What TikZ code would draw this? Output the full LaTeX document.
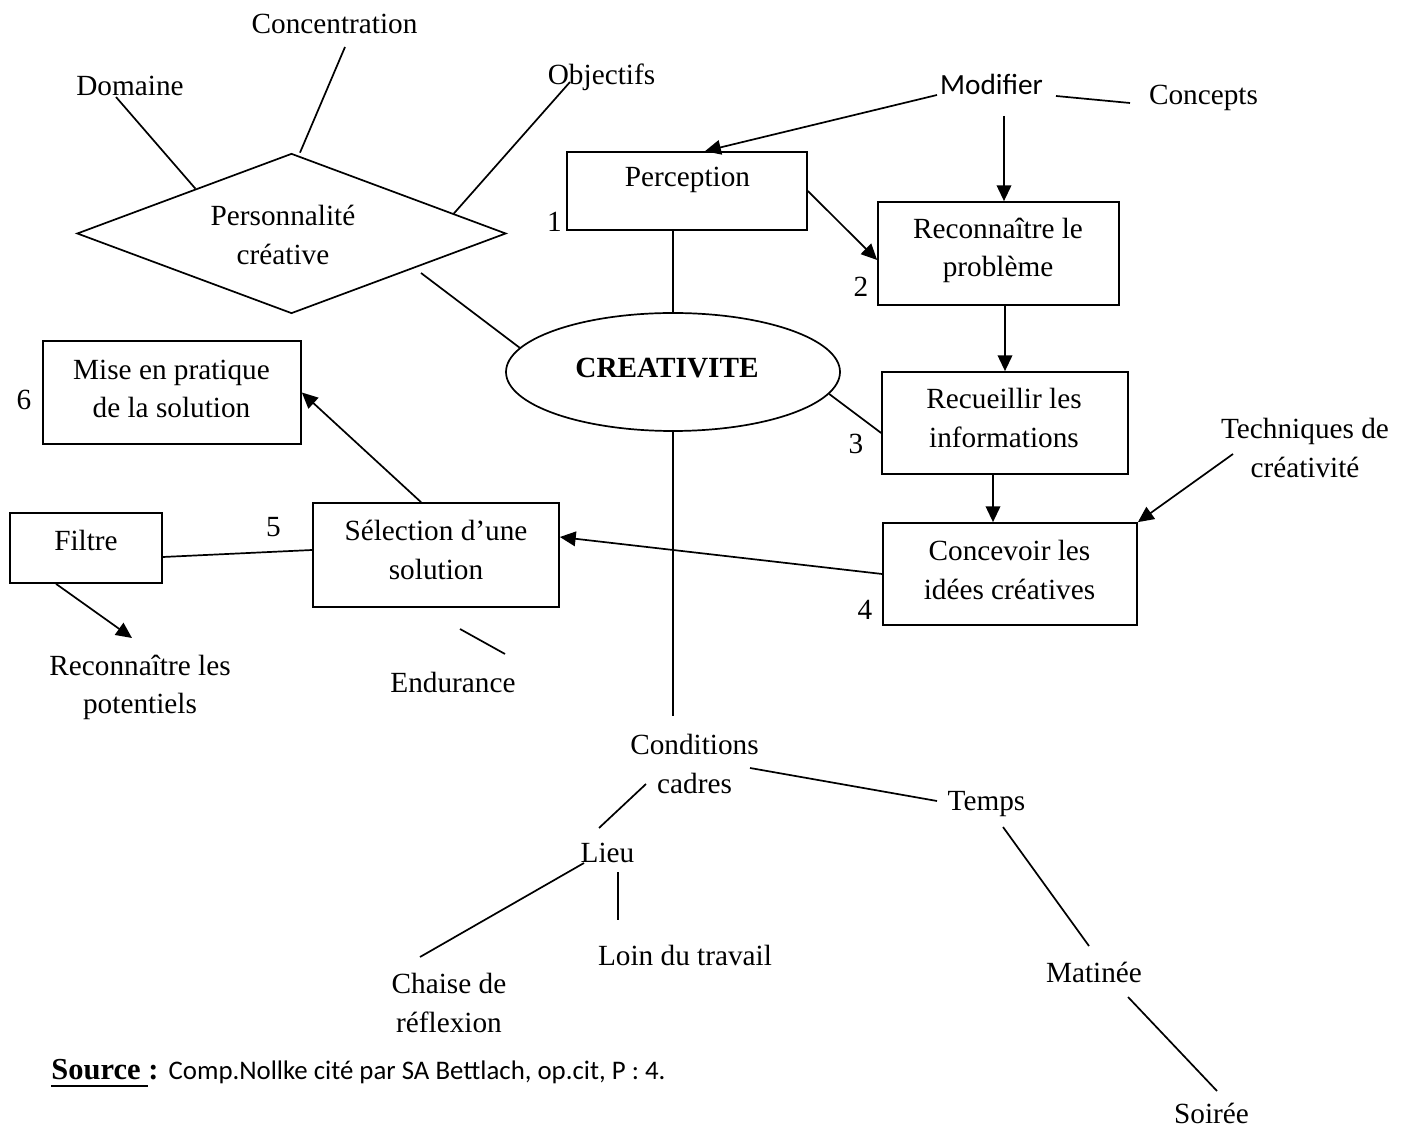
\documentclass[tikz,border=0pt]{standalone}
\usepackage{fontspec}
\setmainfont{Liberation Serif}
\newfontfamily\calibri{Carlito}
\usetikzlibrary{shapes.geometric,arrows.meta,calc}
% underline with a heavier rule, kept on the text baseline
\newcommand\srcul[1]{\vtop{\hbox{#1}\kern2.5pt\hrule height 0.8pt}}
\def\pxu{0.41pt}
\begin{document}
\begin{tikzpicture}[x=0.41pt,y=-0.41pt,
  ln/.style={line width=0.7pt},
  arr/.style={line width=0.7pt,-{Triangle[length=6.5pt,width=6pt]}},
  bx/.style 2 args={draw,line width=0.7pt,inner sep=0pt,
    minimum width=#1*\pxu,minimum height=#2*\pxu},
  txt/.style={inner sep=0pt,align=center,font=\fontsize{12}{15.8}\selectfont},
  num/.style={inner sep=0pt,font=\fontsize{12}{14}\selectfont}]

\fill[white] (0,0) rectangle (1406,1129);
\useasboundingbox (0,0) rectangle (1406,1129);

% ---- shapes ----
\node[draw,diamond,line width=0.7pt,inner sep=0pt,
  minimum width=429*\pxu,minimum height=160*\pxu] (pers) at (291.5,233.5) {};
\node[draw,ellipse,line width=0.7pt,inner sep=0pt,
  minimum width=334*\pxu,minimum height=118*\pxu] (crea) at (673,372) {};
\node[bx={240}{78}]  (perc)    at (687,191)    {};
\node[bx={241}{103}] (recon)   at (998.5,253.5) {};
\node[bx={246}{102}] (recueil) at (1005,423)   {};
\node[bx={254}{102}] (concev)  at (1010,574)   {};
\node[bx={246}{104}] (select)  at (436,555)    {};
\node[bx={258}{103}] (mise)    at (172,392.5)  {};
\node[bx={152}{70}]  (filtre)  at (86,548)     {};

% ---- texts ----
\node[txt] (dom)      at (130,86)     {Domaine};
\node[txt] (concen)   at (334.5,24)   {Concentration};
\node[txt] (obj)      at (601.5,77.5) {Objectifs};
\node[txt] (pers-t)   at (283,235)    {Personnalité\\créative};
\node[txt,font=\calibri\fontsize{12}{14}\selectfont] (modif) at (991.5,84) {Modifier};
\node[txt] (concepts) at (1203.5,97.5) {Concepts};
\node[txt] (perc-t)   at (687.5,180)  {Perception};
\node[txt] (recon-t)  at (998,250.5)  {Reconnaître le\\problème};
\node[txt,font=\bfseries\fontsize{12}{14}\selectfont] (crea-t) at (667,368) {CREATIVITE};
\node[txt] (mise-t)   at (171.5,389)  {Mise en pratique\\de la solution};
\node[txt] (recueil-t) at (1004,418)  {Recueillir les\\informations};
\node[txt] (tech)     at (1305,448)   {Techniques de\\créativité};
\node[txt] (select-t) at (436,550)    {Sélection d’une\\solution};
\node[txt] (filtre-t) at (86,540)     {Filtre};
\node[txt] (concev-t) at (1009.5,570) {Concevoir les\\idées créatives};
\node[txt] (potent)   at (140,687.5)  {Reconnaître les\\potentiels};
\node[txt] (endur)    at (453,682)    {Endurance};
\node[txt] (cond)     at (694.5,764)  {Conditions\\cadres};
\node[txt] (temps)    at (986.5,804)  {Temps};
\node[txt] (lieu)     at (607.5,853)  {Lieu};
\node[txt] (loin)     at (685,955)    {Loin du travail};
\node[txt] (chaise)   at (449,1003)   {Chaise de\\réflexion};
\node[txt] (matin)    at (1094,972)   {Matinée};
\node[txt] (soiree)   at (1211.5,1113) {Soirée};

\node[num] (n1) at (554.5,222) {1};
\node[num] (n2) at (861,287)   {2};
\node[num] (n3) at (856,444)   {3};
\node[num] (n4) at (865,610)   {4};
\node[num] (n5) at (273.5,527) {5};
\node[num] (n6) at (24,400)    {6};

\node[inner sep=0pt,anchor=base west,font=\fontsize{12.5}{14}\selectfont] (src) at (51,1079)
  {\textbf{\srcul{Source }:} {\calibri\fontsize{11}{13}\selectfont Comp.Nollke cité par SA Bettlach, op.cit, P : 4.}};

% ---- free ends of connectors ----
\coordinate (c-dom)    at (116,97);
\coordinate (c-concen) at (345,47);
\coordinate (c-obj)    at (570,82);
\coordinate (c-pers)   at (421,273);
\coordinate (c-cond)   at (673,716);
\coordinate (c-ct1) at (750,768);   \coordinate (c-ct2) at (937,801);
\coordinate (c-cl1) at (646,784);   \coordinate (c-cl2) at (599,828);
\coordinate (c-lc1) at (584,863);   \coordinate (c-lc2) at (420,957);
\coordinate (c-ll1) at (618,872);   \coordinate (c-ll2) at (618,920);
\coordinate (c-tm1) at (1003,827);  \coordinate (c-tm2) at (1089,946);
\coordinate (c-ms1) at (1128,997);  \coordinate (c-ms2) at (1217,1091);
\coordinate (c-mc1) at (1056,96);   \coordinate (c-mc2) at (1130,103);
\coordinate (c-e1)  at (460,629);   \coordinate (c-e2)  at (505,654);
\coordinate (c-m1)  at (937,95);    \coordinate (c-m2)  at (1004,116);
\coordinate (c-tech) at (1233,454);
\coordinate (c-pot)  at (132,638);

% ---- plain links ----
\draw[ln] (c-dom) -- (pers.155.7);
\draw[ln] (c-concen) -- ($(pers.north)+(8.5,0)$);
\draw[ln] (c-obj) -- (pers.7.5);
\draw[ln] (c-pers) -- (crea.171);
\draw[ln] (crea.north |- perc.south) -- (crea.north);
\draw[ln] (crea.-8) -- ($(recueil.west)+(0,10)$);
\draw[ln] (crea.south) -- (crea.south |- c-cond);
\draw[ln] ($(filtre.east)+(0,9)$) -- ($(select.west)+(0,-5)$);
\draw[ln] (c-mc1) -- (c-mc2);
\draw[ln] (c-e1) -- (c-e2);
\draw[ln] (c-ct1) -- (c-ct2);
\draw[ln] (c-cl1) -- (c-cl2);
\draw[ln] (c-lc1) -- (c-lc2);
\draw[ln] (c-ll1) -- (c-ll2);
\draw[ln] (c-tm1) -- (c-tm2);
\draw[ln] (c-ms1) -- (c-ms2);

% ---- arrows ----
\draw[arr] (c-m1) -- ($(perc.north)+(18,0)$);
\draw[arr] (c-m2) -- (c-m2 |- recon.north);
\draw[arr] (perc.east) -- ($(recon.west)+(0,6.5)$);
\draw[arr] (recueil.north |- recon.south) -- (recueil.north);
\draw[arr] ($(recueil.south)+(-12,0)$) -- ($(concev.north)+(-17,0)$);
\draw[arr] (c-tech) -- (concev.north east);
\draw[arr] (concev.west) -- ($(select.east)+(0,-18)$);
\draw[arr] ($(select.north)+(-15,0)$) -- (mise.east);
\draw[arr] ($(filtre.south)+(-30,0)$) -- (c-pot);
\end{tikzpicture}
\end{document}
